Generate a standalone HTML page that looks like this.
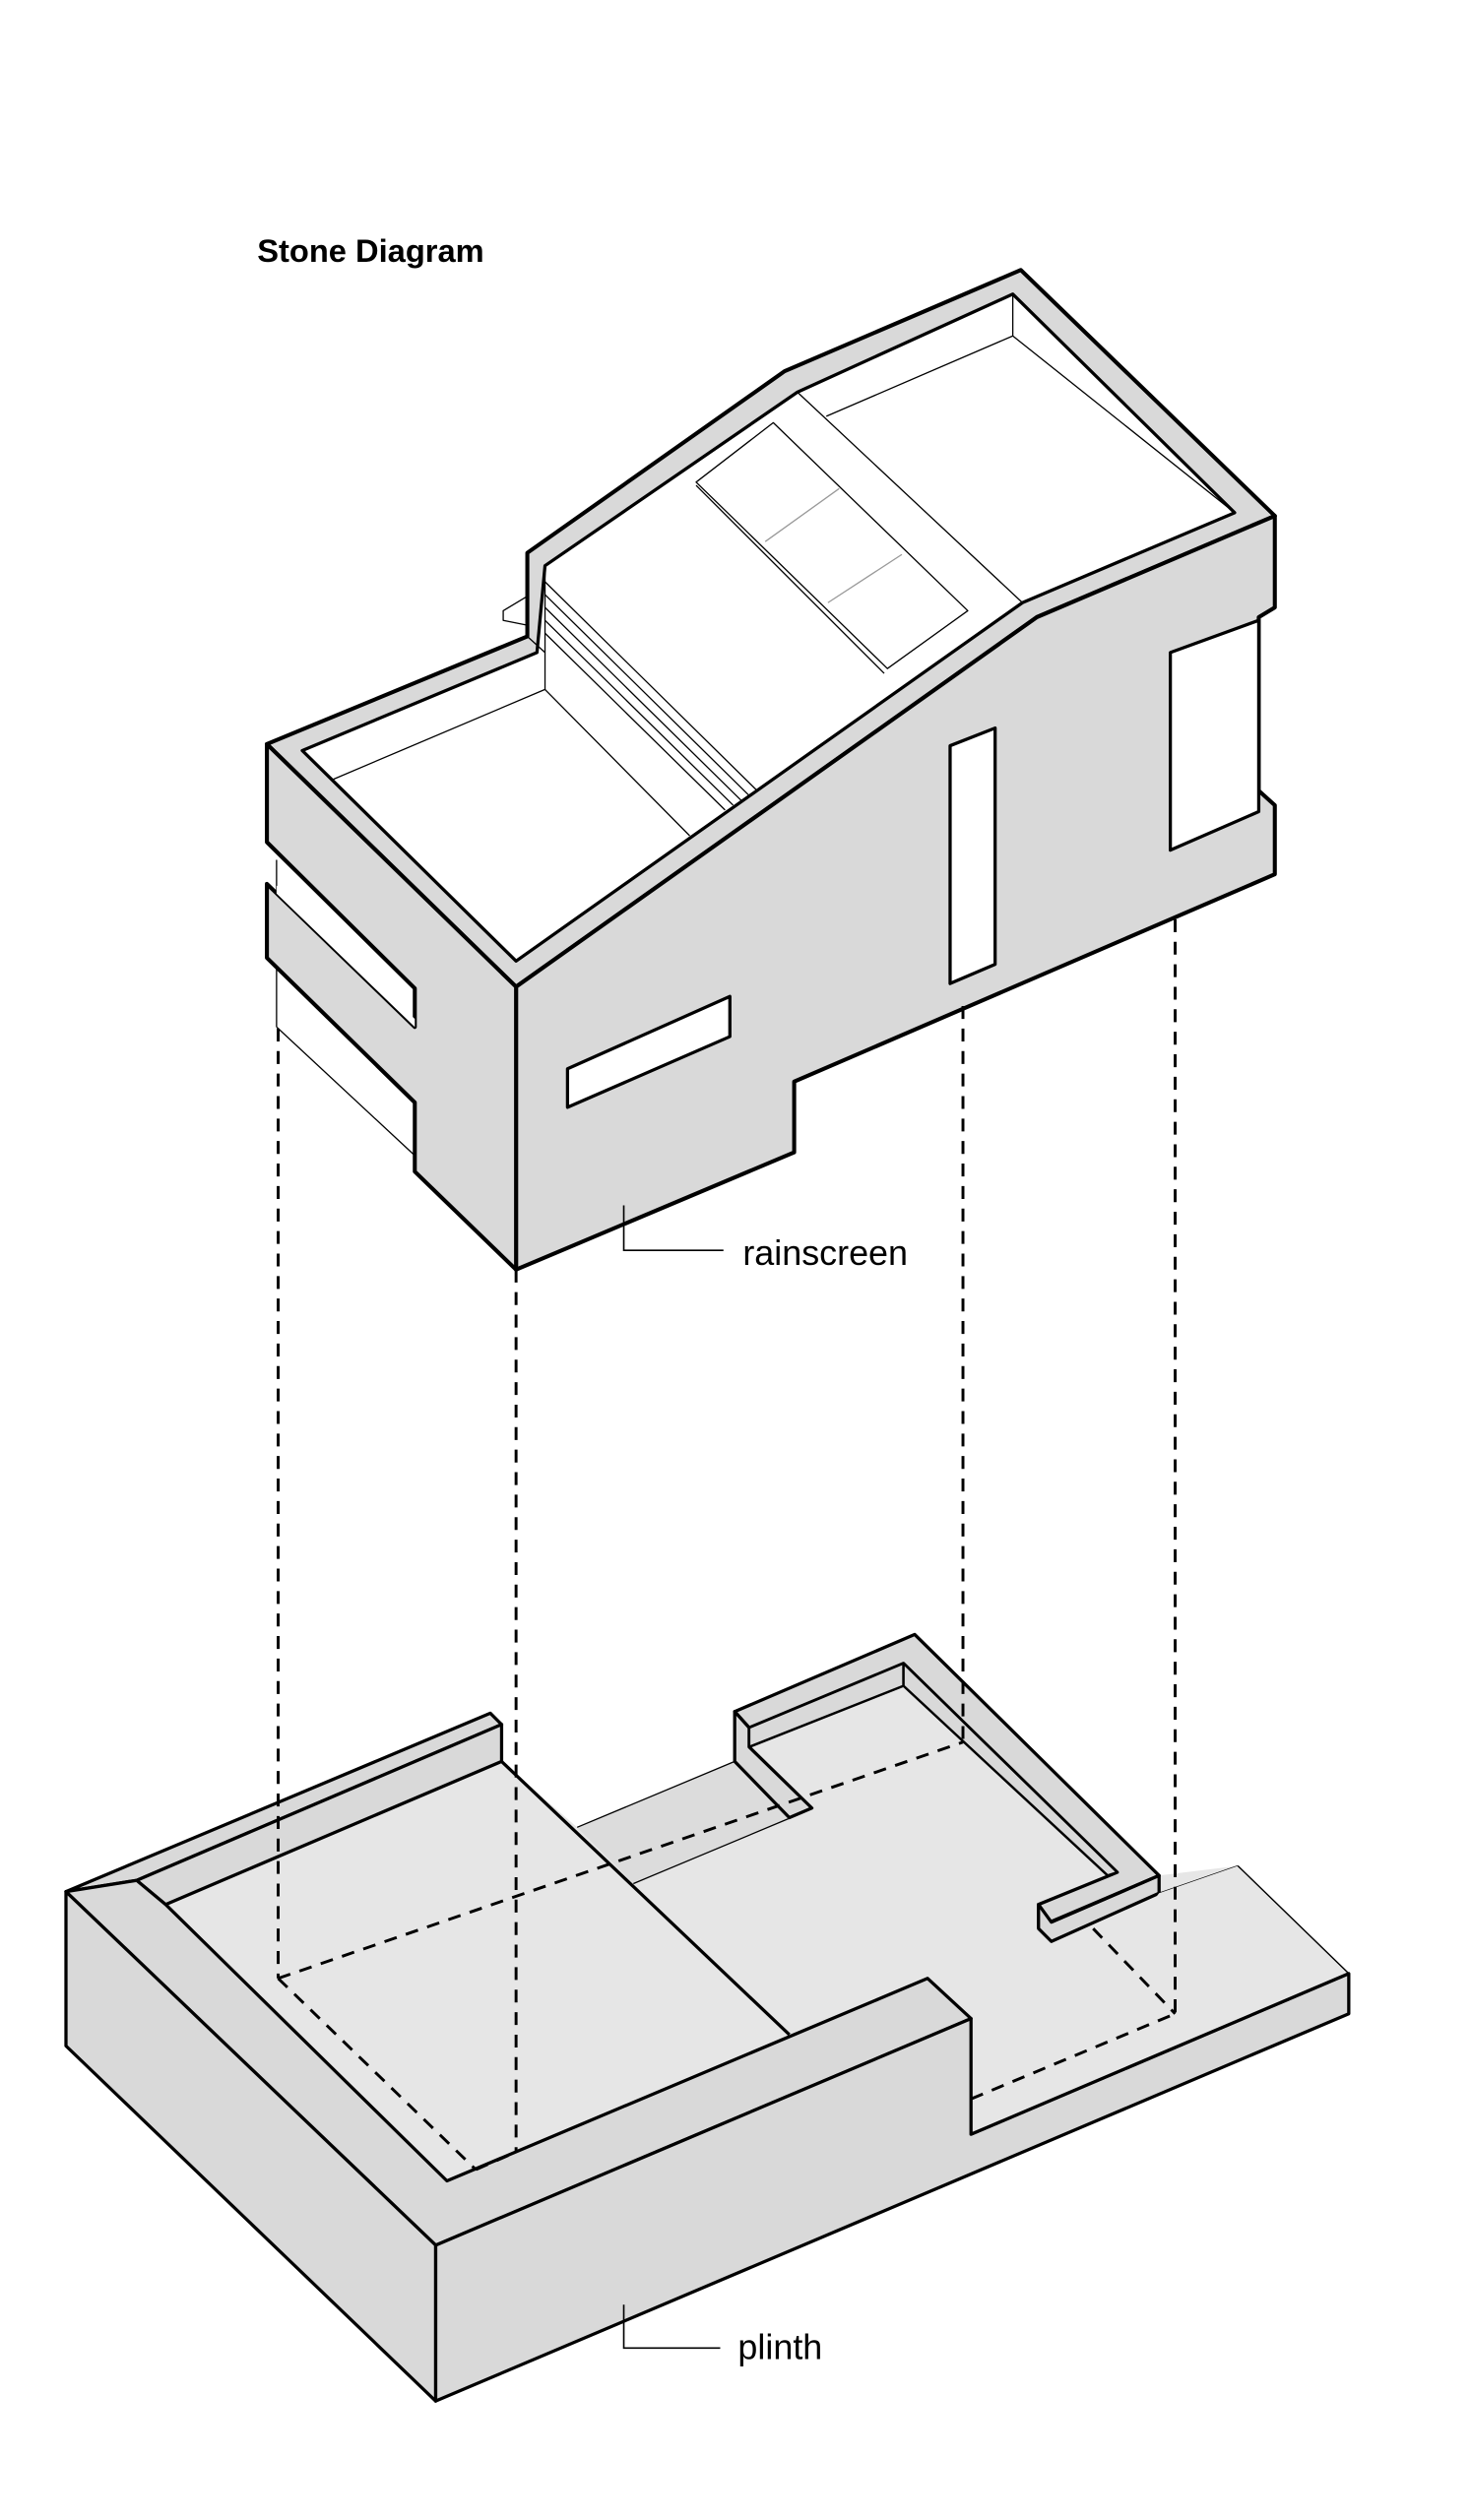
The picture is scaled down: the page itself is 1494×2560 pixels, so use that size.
<!DOCTYPE html>
<html><head><meta charset="utf-8"><style>
html,body{margin:0;padding:0;background:#fff;}
svg{display:block;}
text{font-family:"Liberation Sans",Arial,sans-serif;}
</style></head><body>
<svg width="1494" height="2560" viewBox="0 0 915 1568" xmlns="http://www.w3.org/2000/svg">
<rect width="915" height="1568" fill="#fff"/>
<text x="160" y="163" font-size="20" font-weight="bold">Stone Diagram</text>

<!-- ===== Upper building (rainscreen) ===== -->
<g stroke="#000" stroke-linejoin="round">
<polygon points="166,524 258,615 258,729 166,640" fill="#fff" stroke="none"/>
<polygon points="783,384 783,492 728,529 728,406" fill="#fff" stroke="none"/>
<line x1="172" y1="535" x2="172" y2="639" stroke-width="0.8"/>
<line x1="172" y1="639" x2="258" y2="719" stroke-width="0.8"/>
<line x1="783" y1="384" x2="783" y2="492" stroke-width="0.8"/>
<!-- top rim -->
<polygon points="166,463 328,396 328,344 488,231 635,168 793,321 645,384 321,614" fill="#d9d9d9" stroke-width="2.5"/>
<polygon points="188,467 334,406 339,352 496,244 630,183 768,319 636,375 321,598" fill="#fff" stroke-width="2"/>
<g fill="none" stroke-width="0.8">
<polyline points="207,485 339,429 339,352"/>
<line x1="339" y1="429" x2="429" y2="520"/>
<line x1="188" y1="467" x2="207" y2="485"/>
<line x1="496" y1="244" x2="636" y2="375"/>
<polyline points="514,259 630,209 630,183"/>
<line x1="630" y1="209" x2="768" y2="319"/>
<line x1="328" y1="396" x2="339" y2="406"/>
<!-- stairs -->
<line x1="339" y1="362" x2="471" y2="492"/>
<line x1="339" y1="370" x2="466" y2="495"/>
<line x1="339" y1="378" x2="461" y2="498"/>
<line x1="339" y1="386" x2="456" y2="501"/>
<line x1="339" y1="394" x2="451" y2="504"/>
<polygon points="313,380 328,371 328,389 313,386"/>
<!-- skylight -->
<polygon points="433,300 481,263 602,380 552,416"/>
<line x1="433" y1="302" x2="550" y2="419"/>
<line x1="476" y1="337" x2="522" y2="304" stroke="#999"/>
<line x1="515" y1="375" x2="561" y2="345" stroke="#999"/>
</g>
<!-- front face -->
<polygon points="321,614 645,384 793,321 793,378 783,384 783,492 793,501 793,544 494,673 494,717 321,790" fill="#d9d9d9" stroke-width="2.5"/>
<!-- left face -->
<polygon points="166,463 321,614 321,790 258,729 258,686 166,596 166,550 258,639 258,615 166,524" fill="#d9d9d9" stroke-width="2.5"/>
<polygon points="172,556 258,639 258,634 172,551" fill="#fff" stroke="none"/>
<!-- windows -->
<polygon points="591,464 619,453 619,600 591,612" fill="#fff" stroke-width="2"/>
<polygon points="353,665 454,620 454,645 353,689" fill="#fff" stroke-width="2"/>
<polygon points="728,406 783,386 783,505 728,529" fill="#fff" stroke-width="2"/>
</g>

<!-- ===== Plinth ===== -->
<g stroke="#000" stroke-linejoin="round">
<!-- floor -->
<polygon points="103,1185 312,1096 359,1137 457,1096 457,1065 569,1017 721,1167 770,1161 839,1228 604,1328 604,1256 577,1231 278,1357" fill="#e6e6e6" stroke="none"/>
<polygon points="359,1137 457,1096 491,1131 394,1172" fill="#dcdcdc" stroke="none"/>
<line x1="312" y1="1096" x2="491" y2="1266" stroke-width="2"/>
<line x1="359" y1="1137" x2="457" y2="1096" stroke-width="0.8"/>
<line x1="394" y1="1172" x2="492" y2="1131" stroke-width="0.8"/>
<line x1="770" y1="1161" x2="839" y2="1228" stroke-width="0.8"/>
<line x1="721" y1="1178" x2="770" y2="1161" stroke-width="0.8"/>
<!-- back L wall -->
<polygon points="457,1065 569,1017 721,1167 646,1199 646,1185 695,1165 562,1035 466,1075" fill="#d9d9d9" stroke-width="2"/>
<polygon points="721,1167 721,1178 654,1208 646,1200 646,1185 654,1196" fill="#d9d9d9" stroke-width="2"/>
<polygon points="457,1065 466,1075 466,1087 505,1125 491,1131 457,1096" fill="#d9d9d9" stroke-width="2"/>
<polygon points="466,1075 562,1035 562,1049 466,1087" fill="#d9d9d9" stroke-width="1.5"/>
<polygon points="562,1035 695,1165 689,1167 562,1049" fill="#d9d9d9" stroke-width="1.5"/>
<line x1="654" y1="1196" x2="721" y2="1167" stroke-width="2"/>
<!-- left wall low rim -->
<polygon points="41,1177 305,1066 312,1073 85,1170" fill="#d9d9d9" stroke-width="2"/>
<polygon points="85,1170 312,1073 312,1096 103,1185" fill="#d9d9d9" stroke-width="2"/>
<!-- wall top band -->
<polygon points="41,1177 85,1170 103,1185 278,1357 577,1231 604,1256 271,1397" fill="#d9d9d9" stroke-width="2"/>
<!-- left face -->
<polygon points="41,1177 271,1397 271,1494 41,1273" fill="#d9d9d9" stroke-width="2"/>
<!-- front face -->
<polygon points="271,1397 604,1256 604,1328 839,1228 839,1253 271,1494" fill="#d9d9d9" stroke-width="2"/>
<polygon points="604,1328 839,1228 770,1161 721,1178" fill="#e6e6e6" stroke="none"/>
<line x1="770" y1="1161" x2="839" y2="1228" stroke-width="0.8"/>
<line x1="604" y1="1328" x2="839" y2="1228" stroke-width="2"/>
</g>

<!-- dashed projection lines -->
<g stroke="#000" stroke-width="1.8" stroke-dasharray="8,6" fill="none">
<line x1="173" y1="640" x2="173" y2="1231"/>
<line x1="321" y1="790" x2="321" y2="1339"/>
<line x1="599" y1="626" x2="599" y2="1084"/>
<line x1="731" y1="572" x2="731" y2="1253"/>
<line x1="173" y1="1231" x2="599" y2="1084"/>
<line x1="173" y1="1231" x2="296" y2="1350"/>
<line x1="296" y1="1350" x2="321" y2="1339"/>
<line x1="680" y1="1200" x2="731" y2="1253"/>
<line x1="604" y1="1306" x2="731" y2="1253"/>
</g>

<!-- labels -->
<g stroke="#000" stroke-width="1" fill="none">
<polyline points="388,750 388,778 450,778"/>
<polyline points="388,1434 388,1461 448,1461"/>
</g>
<text x="462" y="787" font-size="22">rainscreen</text>
<text x="459" y="1468" font-size="22">plinth</text>
</svg>
</body></html>
